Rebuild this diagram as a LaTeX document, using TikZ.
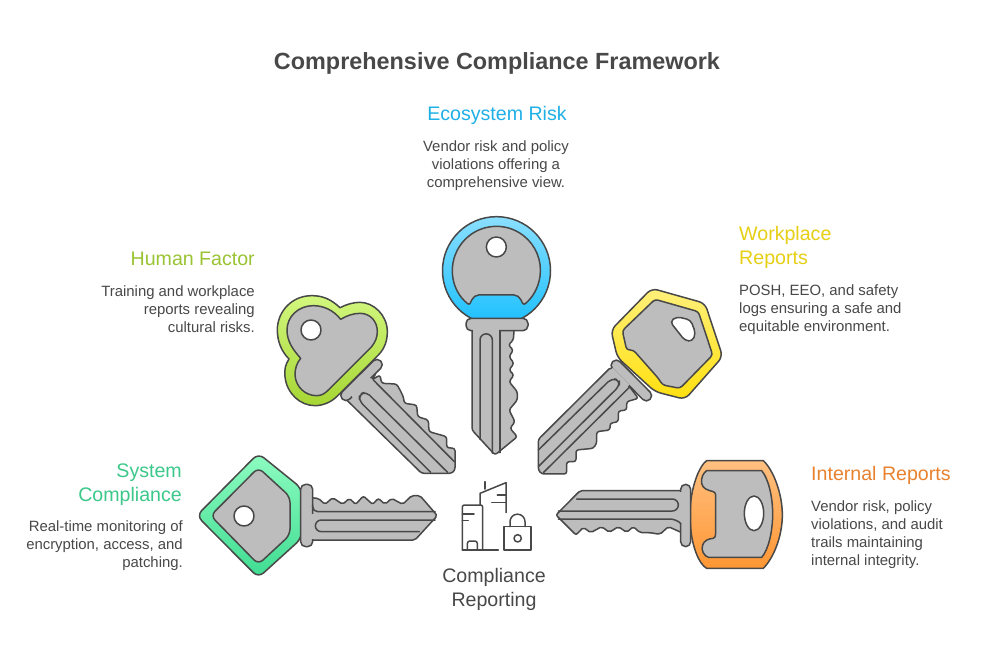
\documentclass[tikz,border=0pt]{standalone}
\usepackage{fontspec}
\setmainfont{Liberation Sans}
\definecolor{ink}{HTML}{484848}
\definecolor{keygray}{HTML}{BDBDBD}
\definecolor{ecoC}{HTML}{1FB0E6}
\definecolor{humC}{HTML}{9AC433}
\definecolor{wrkC}{HTML}{E6CF14}
\definecolor{sysC}{HTML}{3CC88A}
\definecolor{intC}{HTML}{E8822F}
\definecolor{ecoT}{HTML}{8ADFFF}
\definecolor{ecoB}{HTML}{1CC0FF}
\definecolor{humT}{HTML}{D2F77E}
\definecolor{humB}{HTML}{A6D633}
\definecolor{wrkT}{HTML}{FFF07A}
\definecolor{wrkB}{HTML}{FFE00F}
\definecolor{sysT}{HTML}{8DFCC0}
\definecolor{sysB}{HTML}{3FDC92}
\definecolor{intT}{HTML}{FFC080}
\definecolor{intB}{HTML}{FF9633}
\tikzset{
  px/.style={x=0.33333pt,y=-0.33333pt},
  ln/.style={draw=ink,line width=1.5pt,line join=round,line cap=round},
  metal/.style={ln,fill=keygray},
  hole/.style={ln,fill=white},
  bow/.style 2 args={ln,top color=#1,bottom color=#2},
  headtext/.style={font=\fontsize{19.6}{24}\selectfont,align=#1},
  bodytext/.style={font=\fontsize{14.9}{18}\selectfont,text=ink,align=#1},
  keypath/.style={rounded corners=2.5pt}
}
\begin{document}
\begin{tikzpicture}[x=1pt,y=-1pt]
\useasboundingbox (0,0) rectangle (982,660);
\fill[white] (0,0) rectangle (982,660);

% ---------- top key
\begin{scope}[shift={(430,210)},px]
\draw[metal,keypath] (126,350) -- (126,660) -- (195,735) -- (262,680) -- (240,655) -- (255,635) -- (237,600) -- (262,570) -- (262,545) -- (237,515) -- (252,495) -- (237,480) -- (252,460) -- (237,440) -- (250,420) -- (235,405) -- (250,390) -- (253,350) -- cycle;
\path[bow={ecoT}{ecoB}] (199.5,182) circle[radius=162];
\draw[metal,rounded corners=2pt] (118,285) arc[start angle=128,end angle=412,radius=132] -- (270,264) -- (258,255) -- (140,255) -- (128,264) -- cycle;
\draw[hole] (199,111) circle[radius=30];
\draw[metal,rounded corners=5pt] (108,325) rectangle (294,362);
\fill[keygray] (129,352) rectangle (208,368);
\draw[ln] (150,688) -- (150,390) arc[start angle=180,end angle=360,radius=18.5] -- (187,730);
\draw[ln] (210,362) -- (210,728);
\end{scope}

% ---------- human factor key
\begin{scope}[shift={(265,285)},px]
\draw[metal,keypath] (240,340) -- (470,565) -- (560,565) -- (570,555) -- (570,490) -- (545,488) -- (545,455) -- (492,440) -- (490,405) -- (458,395) -- (455,360) -- (418,355) -- (415,335) -- (405,315) -- (395,297) -- (350,295) -- (345,270) -- (320,285) -- (335,262) -- cycle;
\path[bow={humT}{humB}] (225,68) .. controls (195,40) and (170,32) .. (140,32) .. controls (80,32) and (37,80) .. (37,135) .. controls (37,170) and (50,200) .. (72,222) .. controls (60,240) and (58,255) .. (60,275) .. controls (65,325) and (105,362) .. (150,362) .. controls (175,362) and (200,350) .. (215,335) -- (340,210) .. controls (360,190) and (367,165) .. (367,140) .. controls (367,90) and (325,52) .. (285,52) .. controls (265,52) and (245,58) .. (225,68) -- cycle;
\draw[metal] (227,103) .. controls (205,75) and (175,62) .. (145,62) .. controls (100,62) and (66,95) .. (66,135) .. controls (66,170) and (85,195) .. (107,220) .. controls (95,235) and (90,250) .. (90,270) .. controls (92,305) and (120,332) .. (155,332) .. controls (170,332) and (180,325) .. (190,315) -- (320,185) .. controls (330,172) and (337,158) .. (337,140) .. controls (337,108) and (315,85) .. (285,85) .. controls (265,85) and (245,92) .. (227,103) -- cycle;
\draw[hole] (138,135) circle[radius=30];
\draw[metal,rounded corners=5pt] (221,331) -- (243,353) -- (358,239) -- (336,217) -- cycle;
\fill[keygray] (258,330) -- (312,276) -- (322,286) -- (266,342) -- cycle;
\draw[ln,rounded corners=5pt] (497,562) -- (283,348) -- (283,328) -- (303,320) -- (548,562);
\draw[ln] (325,285) -- (568,530);
\end{scope}

% ---------- workplace key
\begin{scope}[shift={(530,280)},px]
\draw[metal,keypath] (242,262) -- (25,478) -- (25,570) -- (35,582) -- (110,582) -- (110,545) -- (138,545) -- (138,510) -- (190,505) -- (200,490) -- (200,455) -- (240,450) -- (240,430) -- (265,425) -- (265,393) -- (290,390) -- (290,365) -- (325,355) -- (300,322) -- cycle;
\path[bow={wrkT}{wrkB},rounded corners=6pt] (243,150) -- (365,25) -- (525,70) -- (578,230) -- (465,358) -- (375,335) -- (262,232) -- cycle;
\draw[metal,rounded corners=3pt] (277,152) -- (375,58) -- (505,95) -- (548,225) -- (450,325) -- (398,315) -- (385,295) -- (310,210) -- (290,210) -- cycle;
\draw[hole,rounded corners=4pt] (420,125) -- (440,110) -- (482,120) -- (497,160) -- (487,184) -- (465,182) -- cycle;
\draw[metal,rounded corners=5pt] (259,234) -- (371,347) -- (349,369) -- (237,256) -- cycle;
\fill[keygray] (248,264) -- (298,314) -- (290,322) -- (240,272) -- cycle;
\draw[ln,rounded corners=5pt] (25,510) -- (245,295) -- (268,300) -- (268,318) -- (25,560);
\draw[ln] (40,578) -- (298,322);
\end{scope}

% ---------- system compliance key
\begin{scope}[shift={(190,445)},px]
\draw[metal,rounded corners=2pt] (360,158) -- (385,160) -- (405,178) -- (428,158) -- (458,178) -- (478,160) -- (497,178) -- (520,153) -- (548,178) -- (565,160) -- (585,178) -- (605,160) -- (638,178) -- (665,152) -- (690,152) -- (742,212) -- (675,285) -- (360,285) -- cycle;
\path[bow={sysT}{sysB},rounded corners=7pt] (205,25) -- (20,212) -- (205,398) -- (335,280) -- (335,130) -- cycle;
\draw[metal,rounded corners=6pt] (205,68) -- (62,212) -- (205,358) -- (300,270) -- (300,155) -- cycle;
\draw[hole] (162,213) circle[radius=30];
\draw[metal,rounded corners=5pt] (332,118) rectangle (368,305);
\fill[keygray] (362,206) rectangle (374,281);
\draw[ln,rounded corners=5pt] (368,180) -- (368,200) -- (735,200);
\draw[ln,rounded corners=6pt] (735,225) -- (376,225) -- (376,260) -- (688,260);
\end{scope}

% ---------- internal reports key
\begin{scope}[shift={(550,450)},px]
\draw[metal,rounded corners=2pt] (400,122) -- (90,122) -- (18,195) -- (78,255) -- (100,232) -- (122,248) -- (155,230) -- (178,247) -- (205,230) -- (230,247) -- (250,230) -- (270,248) -- (300,248) -- (330,253) -- (355,230) -- (400,250) -- cycle;
\path[bow={intT}{intB}] (470,32) -- (640,32) .. controls (670,60) and (697,130) .. (697,195) .. controls (697,260) and (670,325) .. (640,355) -- (470,355) .. controls (450,345) and (420,290) .. (420,195) .. controls (420,110) and (450,45) .. (470,32) -- cycle;
\draw[metal] (470,62) -- (635,62) .. controls (655,85) and (668,140) .. (668,192) .. controls (668,245) and (655,300) .. (635,322) -- (475,322) .. controls (462,318) and (452,300) .. (458,285) .. controls (462,272) and (475,266) .. (490,265) .. controls (495,263) and (497,258) .. (497,250) -- (497,140) .. controls (497,130) and (495,127) .. (490,125) .. controls (470,120) and (458,115) .. (455,100) .. controls (452,85) and (460,68) .. (470,62) -- cycle;
\draw[hole] (612,190) ellipse[x radius=29,y radius=52];
\draw[metal,rounded corners=5pt] (392,103) rectangle (422,290);
\fill[keygray] (386,126) rectangle (398,218);
\draw[ln,rounded corners=5pt] (25,207) -- (375,207) -- (392,220);
\draw[ln,rounded corners=6pt] (25,183) -- (385,183) -- (385,147) -- (80,147);
\end{scope}

% ---------- central icon
\begin{scope}[shift={(450,470)},px]
\draw[ln,rounded corners=2pt] (37,240) -- (37,105) -- (98,105) -- (98,240);
\draw[ln] (37,240) -- (145,240);
\draw[ln,rounded corners=2.5pt] (52,240) -- (52,213) -- (82,213) -- (82,240);
\draw[ln] (37,132) -- (72,132) (37,152) -- (55,152);
\draw[ln] (90,105) -- (90,70) -- (168,38) -- (168,128);
\draw[ln] (105,35) -- (105,57) (125,98) -- (168,98) (142,75) -- (168,75);
\draw[ln] (162,170) rectangle (243,240);
\draw[ln] (180,170) -- (180,155) arc[start angle=180,end angle=360,radius=22.5] -- (225,170);
\draw[ln] (203,205) circle[radius=11];
\end{scope}

% ---------- texts
\node[font=\bfseries\fontsize{23.4}{28}\selectfont,text=ink] (title) at (497,63.5) {Comprehensive Compliance Framework};

\node[headtext=center,text=ecoC] (ecoH) at (497,115.5) {Ecosystem Risk};
\node[bodytext=center] (ecoB) at (496,165.5) {Vendor risk and policy\\violations offering a\\comprehensive view.};

\node[headtext=right,text=humC,anchor=east,inner xsep=0pt] (humH) at (255,259) {Human Factor};
\node[bodytext=right,anchor=east,inner xsep=0pt] (humB) at (255,309.5) {Training and workplace\\reports revealing\\cultural risks.};

\node[headtext=left,text=wrkC,anchor=west,inner xsep=0pt] (wrkH) at (739,247.5) {Workplace\\Reports};
\node[bodytext=left,anchor=west,inner xsep=0pt] (wrkB) at (739,309.5) {POSH, EEO, and safety\\logs ensuring a safe and\\equitable environment.};

\node[headtext=right,text=sysC,anchor=east,inner xsep=0pt] (sysH) at (182,484.5) {System\\Compliance};
\node[bodytext=right,anchor=east,inner xsep=0pt] (sysB) at (183,545.5) {Real-time monitoring of\\encryption, access, and\\patching.};

\node[headtext=left,text=intC,anchor=west,inner xsep=0pt] (intH) at (811,475.5) {Internal Reports};
\node[bodytext=left,anchor=west,inner xsep=0pt] (intB) at (811,534.5) {Vendor risk, policy\\violations, and audit\\trails maintaining\\internal integrity.};

\node[headtext=center,text=ink] (centre) at (494,589.5) {Compliance\\Reporting};
\end{tikzpicture}
\end{document}
